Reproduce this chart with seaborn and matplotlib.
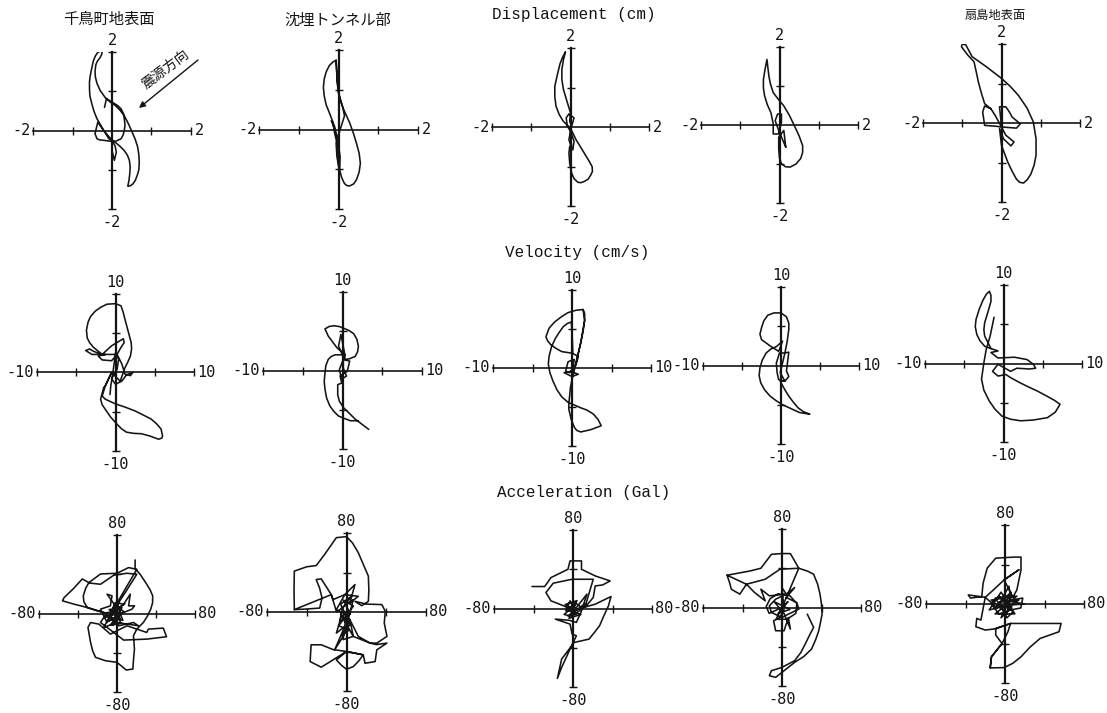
import matplotlib
matplotlib.use("Agg")
import matplotlib.pyplot as plt
import seaborn as sns

W, H = 1107, 713
INK = "#141414"
MONO = ["Liberation Mono", "DejaVu Sans Mono"]
LABEL = ["DejaVu Sans Mono"]
CJK = ["Noto Sans CJK JP", "DejaVu Sans"]

# ---------- orbit readings (x, y) in chart units ----------
disp_1 = [(-.19,.59),(-.14,.81),(.04,.70),(.15,.63),(.23,.55),(.29,.43),(.31,.30),(.33,.14),(.31,0),(.28,-.12),(.23,-.21),(.08,-.28),(-.08,-.21),(-.21,0),
          (-.38,.30),(-.46,.50),(-.51,.68),(-.56,.88),(-.57,1.06),(-.57,1.24),(-.55,1.40),(-.51,1.60),(-.47,1.78),(-.42,1.90),(-.36,1.99),(-.30,2.02),(-.25,2.01),(-.26,1.94),(-.30,1.86),(-.38,1.75),(-.41,1.67),
          (-.43,1.50),(-.42,1.36),(-.38,1.20),(-.30,1.02),(-.18,.85),(-.04,.72),(.08,.64),(.20,.52),(.31,.38),(.42,.16),(.51,-.04),(.59,-.23),(.65,-.42),(.68,-.62),(.69,-.81),(.68,-1.0),(.64,-1.14),(.59,-1.27),
          (.53,-1.36),(.46,-1.41),(.40,-1.42),(.43,-1.27),(.45,-1.10),(.46,-.92),(.44,-.76),(.39,-.63),(.31,-.51),(.20,-.40),(.08,-.30),(-.06,-.27),(-.21,-.25),(-.31,-.24),(-.38,-.21),(-.43,-.08),
          (-.36,.21),(-.21,0),(0,-.25),(.08,-.40),(.11,-.55),(.06,-.76),(0,-.51)]
disp_2 = [(-.06,1.74),(-.14,1.70),(-.23,1.61),(-.31,1.45),(-.36,1.27),(-.38,1.06),(-.36,.85),(-.31,.62),(-.23,.42),(-.10,.08),(-.02,-.25),(.04,-.68),(.03,-1.02),(.08,-1.21),
          (.15,-1.36),(.21,-1.41),(.28,-1.42),(.38,-1.37),(.45,-1.27),(.52,-1.07),(.55,-.85),(.52,-.60),(.45,-.34),(.37,-.08),(.28,.17),(.19,.37),(.11,.55),(.05,.72),(0,.93),(-.03,1.15),(-.04,1.36),(-.06,1.74),
          (-.04,1.36),(0,.93),(.11,.55),(.15,.34),(.03,-.04),(-.06,-.34),(-.04,-.68),(.01,-.97),(-.02,-.42),(-.10,-.08),
          (-.14,.17),(-.18,.22),(-.08,-.02)]
disp_3 = [(-.13,1.90),(-.21,1.75),(-.27,1.59),(-.34,1.30),(-.40,1.03),(-.40,.77),(-.37,.53),(-.29,.32),(-.18,.14),(0,-.03),(.14,-.32),(.24,-.48),(.35,-.66),(.46,-.84),(.55,-1.0),(.56,-1.12),
          (.52,-1.21),(.45,-1.32),(.35,-1.38),(.26,-1.41),(.19,-1.40),(.09,-1.31),(.03,-1.17),(-.02,-.92),(-.04,-.66),(-.02,-.49),(.06,-.58),(.09,-.36),(0,-.11),
          (-.04,-.32),(.03,-.55),(0,-.11),(-.08,.02),(-.11,.23),(-.04,.33),(.09,.23),(.03,.02),(-.02,.15),(0,.36),(-.09,.65),
          (-.18,.95),(-.22,1.2),(-.22,1.46),(-.18,1.70),(-.13,1.90)]
disp_4 = [(.16,-.57),(.11,-.14),(-.02,-.31),(-.02,-.61),(0,-.85),(.05,-.99),(.15,-1.07),(.27,-1.08),(.42,-1.0),(.54,-.86),(.59,-.70),(.59,-.53),(.50,-.28),(.38,-.02),
          (.25,.25),(.11,.49),(-.03,.66),(-.16,.83),(-.23,1.05),(-.27,1.25),(-.32,1.68),(-.37,1.42),(-.41,1.17),(-.41,.95),(-.38,.75),(-.31,.52),(-.22,.32),(-.16,.03),(-.16,-.23),
          (-.02,-.23),(.05,.07),(.05,.28),(-.05,.28),(-.11,.11),(-.02,-.14),(.16,-.57)]
disp_5 = [(0,-.10),(-.05,.41),(.11,.41),(.20,.28),(.27,.15),(.48,-.02),(.38,-.13),(0,-.10),(.11,-.31),(.32,-.48),(.24,-.58),
          (.05,-.40),(-.05,-.14),(0,-.57),(.16,-.99),(.27,-1.22),(.38,-1.42),(.46,-1.50),(.56,-1.52),(.66,-1.43),(.75,-1.29),(.83,-1.07),(.88,-.82),(.88,-.40),(.81,.03),(.65,.38),
          (.43,.70),(.22,.93),(0,1.13),(-.38,1.42),(-.75,1.68),(-.84,1.85),(-.91,1.98),(-1.0,2.0),(-1.02,1.93),(-.86,1.72),(-.70,1.55),(-.64,1.28),(-.59,1.04),(-.51,.75),(-.43,.49),
          (-.27,.36),(-.16,.19),(0,-.10),(-.16,-.08),(-.43,-.06),(-.48,.28),(-.43,.43),(-.27,.36)]

vel_1 = [(-.7,-2.8),(-.6,-1.7),(-.3,.2),(0,2.5),(.4,1.7),(.2,.4),(-.5,-.8),(0,-1.5),(.8,-1.1),(1.4,-.3),(2.2,0),(1.9,-.4),
         (1.2,-.2),(.8,1.1),(.2,2.3),(.7,3.2),(1.1,3.8),(1.0,4.3),(-.5,3.4),(-1.7,2.3),(-2.8,2.7),(-3.3,3.0),(-3.8,2.8),(-3.0,2.3),
         (-1.3,2.3),(-2.2,2.1),(-1.7,1.6),(-.5,1.5),(.2,2.3),(-1.7,2.3),(-2.3,2.8),(-2.8,3.2),(-3.3,3.8),(-3.6,4.4),(-3.7,5.4),(-3.5,6.4),(-3.2,7.1),(-2.6,7.8),(-1.9,8.3),
         (-1.1,8.7),(0,8.77),(.7,8.5),(1.0,7.6),(1.2,6.8),(1.6,5.3),(2.0,3.8),(2.05,3),(1.9,2.1),(1.6,1.4),(1.2,.6),(.6,-1.1),(-.5,0),(-1.3,-1.7),(-1.5,-1.9),
         (-1.9,-3.4),(-1.7,-4.1),(-1.3,-4.7),(-.6,-5.7),(.2,-6.6),(.8,-7.2),(1.4,-7.6),(2.3,-7.75),(3.3,-7.8),(4.4,-8.1),(5.5,-8.5),(5.9,-8.35),(6.0,-8.1),(5.8,-7.2),(5.2,-6.5),(4.5,-5.9),(3.5,-5.4),(2.5,-4.9),(1.2,-4.4),
         (0,-4.0),(-1.3,-3.4),(-1.7,-3.0),(-1.3,-1.7),(-.5,0)]
vel_2 = [(3.3,-7.5),(1.6,-6.2),(.1,-4.7),(-.4,-3.9),(-.6,-3.1),(-.6,-1.8),(-.1,-1.6),(-.3,-.7),(.6,-.1),(.9,1.2),(.1,1.4),(-.4,.1),
         (-.1,-1.1),(.5,-.7),(.1,.3),(.1,1.8),(-.5,3.1),(-.2,4.6),(.3,2.0),(-.7,2.9),(-1.8,4.4),(-2.2,5.3),(-1.7,5.6),(-1.1,5.7),
         (-.4,5.6),(.1,5.4),(.8,5.1),(1.4,4.7),(1.8,4.0),(2.0,3.1),(1.9,2.4),(1.6,1.8),(.9,1.5),(.3,1.4),(.3,2.0),(-.9,2.0),(-1.4,1.8),(-1.8,1.4),(-2.1,.6),(-2.2,-.3),(-2.3,-1.4),(-2.2,-2.4),(-2.0,-3.5),(-1.6,-4.5),(-1.1,-5.2),
         (-.5,-5.8),(.2,-6.1),(1.0,-6.4),(2.0,-6.4)]
vel_3 = [(1.4,7.5),(.5,7.4),(-.5,7.1),(-1.3,6.6),(-2.2,5.9),(-2.9,5.1),(-3.3,4.0),(-3.1,3.5),(-2.7,3.0),(-2.0,2.5),(-1.3,2.1),(0,1.9),(.8,1.5),(.5,.4),(-.3,-.6),
         (-.8,-.4),(-.5,.8),(.3,1.1),(0,-.4),(-1.0,-.6),(0,-1.1),(.8,-.8),(0,-.5),(.5,.6),(.8,1.9),(1.1,3.2),(1.4,4.7),(1.6,6.1),(1.6,7.0),(1.4,7.5),
         (1.6,6.1),(1.1,3.2),(.5,.6),(0,-1.5),(-.2,-2.5),(-.3,-3.6),(-.4,-4.5),(-.4,-5.3),(-.1,-6.6),(.3,-7.6),(.6,-8.0),(1.1,-8.2),(2.4,-7.9),(3.7,-7.4),(3.3,-6.6),(2.7,-5.9),(1.9,-5.4),
         (1.1,-5.1),(-.5,-4.4),(-1.3,-3.7),(-1.9,-2.8),(-2.4,-1.7),(-2.8,-.6),(-3.0,.5),(-2.9,1.5),(-2.6,2.7),(-2.1,3.8),(-1.6,4.6),(-1.1,5.3),(-.6,5.7),(-.1,5.9),(0,4.9),(.1,1.9)]
vel_4 = [(0,6.7),(-.9,6.7),(-1.7,6.4),(-2.2,5.7),(-2.5,4.8),(-2.7,4.0),(-2.5,3.3),(-1.4,2.5),(-.3,1.8),(.2,3.1),(-.6,2.4),(-1.3,2.1),(-1.9,1.6),(-2.4,.7),(-2.7,-.3),(-2.8,-1.3),(-2.6,-2.2),(-2.1,-3.1),
         (-1.4,-3.9),(-.6,-4.5),(.2,-5.0),(1.3,-5.5),(2.4,-6.0),(3.7,-6.2),(2.9,-5.9),(2.2,-5.4),(1.6,-4.7),(1.0,-3.9),(.5,-3.1),(-.1,-2.0),(.5,-2.0),(1.0,-1.4),(.7,-.7),
         (1.0,1.7),(.5,1.6),(-.2,1.6),(-.6,.3),(-.5,-.9),(-.3,-1.8),(.5,-2.0),(-.1,-.9),(.5,1.6),(.8,3.1),(1.0,4.6),(1.0,5.4),(.7,6.2),(0,6.7)]
vel_5 = [(-1.2,5.9),(-1.7,3.5),(-2.2,1.8),(-2.5,.1),(-2.8,-2.0),(-2.5,-3.4),(-1.8,-4.8),(-1.1,-5.8),(-.2,-6.7),(.9,-7.1),(2.2,-7.3),(3.8,-7.2),(5.6,-6.9),(6.6,-6.2),(7.2,-5.2),(6.5,-4.7),
         (5.6,-4.2),(4.3,-3.5),(3.0,-2.9),(2,-2.4),(.9,-1.8),(.3,-1.4),(-.7,-1.6),(-1.4,-1.0),(-.7,-.1),(.9,-1.0),(1.7,-.6),(3.3,-.7),(4.1,-.6),
         (3.8,-.1),(3.0,.5),(1.4,.8),(-.7,.7),(-1.6,1.4),(-.7,1.6),(-1.6,1.9),(-2.4,2.2),(-3.0,2.9),(-3.4,3.7),(-3.6,4.7),(-3.5,5.6),(-3.1,6.9),(-2.6,8.1),(-2.2,8.8),(-1.8,9.2),(-1.6,8.7),
         (-1.6,7.9),(-2.0,6.5),(-2.4,5.2),(-2.5,4.3),(-2.4,3.5),(-1.6,1.9)]

acc_1 = [(18.6,54.6),(18.6,45.8),(23.7,40),(30.5,29.8),(34,24),(36.6,18),(36.5,11),(34.6,4.4),(31,-3),(27,-9.2),(20.3,-15.9),(16.9,-22.7),(17.9,-36.3),(17,-46),
         (16.3,-56.6),(9.5,-57.6),(0,-49.8),(-11.9,-48.1),(-22,-44.7),(-25,-38),(-27.1,-29.5),(-29.8,-14.2),(-27.1,-9.2),(-18.6,-10.8),
         (-6.8,-21),(10.2,-12.5),(30.5,-19.3),(32.2,-15.9),(47.5,-14.9),(50.8,-23.7),(30.5,-26.1),(6.8,-27.1),(-3.4,-19.3),
         (-16.9,-9.2),(-10.2,1),(0,2),(1.7,11.2),(8.5,21.4),(20.3,40),(10.2,41),(-3.4,39),(-16.9,29.8),(-28,31),(-35.6,35.2),(-45,25),
         (-54.2,16.3),(-55.9,12.9),(-44,9.5),(-30.5,6.1),(-20.3,2.7),(-10,0),(-30.5,6.1),(-34,12),(-34.6,18),(-32,26),(-28.8,31.5),(-16.9,40.3),
         (0,41),(11.9,46.8),(20.3,45),
         (-1.7,7.8),(-10.2,19.7),(-5.1,18),(-6.8,7.8),(-16.9,4.4),(-10.2,-9.2),(-1.7,11.2),(6.8,9.5),(13.6,19.7),(11.9,7.8),
         (18,7.8),(15.3,4.4),(6.8,1),(-3.4,-5.8),(-10.2,-2.4),(1.7,-12.5),(16.9,-9.2),(22,-12.5),(0,-9.2),(-13.6,-14.2),
         (-1.7,7.8),(3.4,-5.8),(-8,4),(5,6),(-4,-12),(2,-3),(-9,-8),(7,2),(-3,9),(-6,-4),(6,-7),(1,6),(-12,-4),(3,1),(-7,-12),(4,-10),(-2,3),(8,10),(-4,2),(0,-6)]
acc_2 = [(-52.5,2.4),(-52.8,22),(-52.5,41.4),(-40,45.8),(-30.5,47),(-22,58.3),(-10.2,75.3),(0,76.3),(6,70),(11.9,60),(17,48),(22,36.3),(22.5,22),(22,10.8),(15.3,6.4),
         (8.5,10.8),(20,8),(35.6,7.5),(39,.7),(38,-11.2),(40.7,-24.7),(30.5,-31.5),(23.7,-31.5),(11.9,-24.7),(6.8,-14.6),(3.4,-7.8),
         (6.8,-24.7),(-3.4,-28),(0,-1),(-5.1,-4.4),(-10.2,-21.4),(-1.7,-14.6),(-11.9,-38.3),(-3.4,-24.7),(3.4,-7.8),(-3.4,-1),
         (-10.2,2.4),(-1.7,17.6),(8.5,27.8),(3.4,9.2),(11.9,15.9),(-1.7,17.6),(-13.6,12.5),(-15.3,17.6),(-25.4,33.5),(-30.5,32.9),
         (-27,24),(-24.6,14.2),(-27,4),(-40,3),(-52.5,2.4),
         (-15.3,17.6),(-10,0),(6.8,12.5),(1.7,-7.8),(-6,8),(5,16),(-4,4),(-7,-10),(4,-2),(-3,12),(7,6),(-8,-14),(3,-18),(-5,-24),(4,-12),(-6,-2),(6.8,-24.7),(23.7,-31.5),(30,-33),(40.7,-31.5),(30.5,-38.3),(28.8,-50.2),
         (18.6,-51.9),(16.9,-43.4),(8.5,-41.7),(0,-40),(-10.2,-48.5),(-5,-54),(0,-58),(6.8,-55.3),(12,-50),(16.9,-43.4),(8.5,-41.7),(0,-40),
         (-13.6,-38),(-25.4,-33.2),(-35.6,-33.2),(-36.6,-50.2),(-25.4,-55.9),(-13.6,-48.5),(0,-40)]
acc_3 = [(-41.5,22.4),(-28.7,22.4),(-22.3,31.5),(-5.1,40),(-3,48.5),(8.6,48.5),(8.6,40),(22.5,33.2),(37.6,28.1),(30,24),(22.5,23),
         (20.5,11.2),(12,1),(20.5,29.8),(-.9,29.8),(-20,25.8),(-27.4,16.3),(-22.3,7.8),(-9.4,2.7),(0,-2),(22.5,4.4),(38.5,12.2),
         (35.9,2.7),(31,-8),(26.9,-17.6),(22,-24),(16.2,-31.2),(1.3,-34.6),(-11.5,-51.5),(-15.8,-71.2),(-11.5,-60),(-3,-41.4),(3.4,-27.8),
         (-.9,-26.1),(-3,-15.9),(-17.9,-10.8),(-4,-12),(3.4,-14.2),(8,-4),(14.1,14.6),(3.4,1),(-7.3,-2.4),(-3,7.8),(3.4,-5.8),(-5.1,-7.5),
         (12,4.4),(3.4,-2),(-8,4),(4,8),(-4,-10),(8,-6),(-6,-2),(2,6),(10,0),(-2,-8),(-9,-6),(2,3)]
acc_4 = [(-55.6,32.9),(-53,25),(-51.3,18.6),(-42.7,13.6),(-36,23.7),(-55.6,32.9),(-32,37.3),(-21.4,40),(-10.7,54.2),(0,55),(8.5,54.9),(17,40),
         (-2,39),(-17,28.8),(-36,23.7),(-27.8,15.3),(-17,6.8),(-21.4,18.6),(-12.8,11.9),(4.3,13.6),(12.8,20.3),(4.3,10.2),(15,5),
         (17,-1.7),(6.4,-6.8),(0,-10.2),(-10.7,-5),(-12.8,1.7),(-6.4,8.5),(4.3,13.6),(0,20.3),(2,-2),(-2.1,-10.2),(-8.5,-13.6),
         (-6.4,-23.7),(2.1,-23.7),(6.4,-10.2),(8.5,-22),(2,-6),(-8,6),(8,-2),(-4,-6),(6,6),(0,0),(-13,-6),(-16,1),(-12,9),(-4,14),(8,12),(15,4),(14,-6),(5,-12),(-6,-12),(0,0),(17,40),
         (26,37),(32,33.9),(36,24),(38.5,13.6),(40,3),(40.6,-6.8),(39,-15),(37.2,-23.7),(34,-33),(29.9,-42.4),(22,-50),(12.8,-55.9),(4.3,-62.7),(-6.4,-71.2),(-12.8,-69.5),
         (-10.7,-64.4),(0,-61),(12.8,-54.2),(19,-46),(23.5,-37.3),(28,-28),(32,-20.3),(25.6,-6.8)]
acc_5 = [(-15,-64.7),(-13.7,-53.5),(-3,-40),(-9.4,-31.5),(-9.4,-24.7),(5.6,-19.7),(35.5,-19.7),(56.8,-19.7),(54.7,-28.1),(35.5,-34.9),
         (25,-44),(16.2,-53.5),(8,-60),(-.9,-64.4),(-15,-64.7),(-13.7,-53.5),(-3,-40),(3,-28),(5.6,-19.7),(-9,-25),(-20,-26.4),(-29.5,-23),(-28.6,-14.6),
         (-24.4,-16.3),(-20,6.8),(-37.2,9.2),(-35,6),(-23.5,7.5),(-22.2,21),(-18,36.3),(-9.4,46.4),(0,47),(9.8,47.5),(16.2,47.5),(16.2,34.6),
         (12,14.2),(8,7),(-.9,24.4),(14,34.6),(-.9,24.4),(-12,14),(-20,6.8),(-8,-4),(4,18),(6,4),(18,6),(16,-4),(6,-6),(-6,-10),(-14,0),
         (-6,8),(8,-8),(2,-14),(-6,2),(14,4),(-2,-6),(-10,6),(4,8),(0,-2),(-16,-6),(-4,12),(10,-10),(-10,-10),(12,8),(-14,4),(2,-10),(6,12),(-8,-2),(20,0),(3,3),(-4,-14),(7,-3),(0,0)]

row_limits = [2, 10, 80]
row_ticks_top = ["2", "10", "80"]
row_ticks_bot = ["-2", "-10", "-80"]
row_titles = ["Displacement (cm)", "Velocity (cm/s)", "Acceleration (Gal)"]
site_titles = ["千鳥町地表面", "沈埋トンネル部", "扇島地表面"]
source_label = "震源方向"
orbits = [[disp_1, disp_2, disp_3, disp_4, disp_5],
          [vel_1, vel_2, vel_3, vel_4, vel_5],
          [acc_1, acc_2, acc_3, acc_4, acc_5]]

# ---------- layout: axis extents of each panel, image pixels (left, right, top, bottom) ----------
boxes = [[(33,191,52,209),(259,418,50,209),(492,649,48,206),(701,858,47,203),(923,1080,44,202)],
         [(37,194,294,451),(263,422,292,449),(493,651,290,446),(703,859,287,444),(925,1082,285,442)],
         [(39,195,535,692),(267,426,533,691),(494,652,530,687),(703,861,529,686),(926,1084,525,683)]]

sns.set_style("white")
plt.rcParams["font.family"] = MONO
fig = plt.figure(figsize=(W / 100, H / 100), dpi=100, facecolor="white")


def fx(px):
    return px / W


def fy(py):
    return 1 - py / H


for r, row in enumerate(boxes):
    lim = row_limits[r]
    for c, (l, rt, t, b) in enumerate(row):
        ax = fig.add_axes([fx(l), fy(b), (rt - l) / W, (b - t) / H])
        pts = orbits[r][c]
        sns.lineplot(x=[p[0] for p in pts], y=[p[1] for p in pts], sort=False, estimator=None,
                     color=INK, lw=1.15, ax=ax, legend=False)
        ax.lines[-1].set_solid_joinstyle("round")
        ax.set_xlim(-lim, lim)
        ax.set_ylim(-lim, lim)
        ax.patch.set_alpha(0)
        for s in ("top", "right"):
            ax.spines[s].set_visible(False)
        ax.spines["left"].set_position("zero")
        ax.spines["bottom"].set_position("zero")
        ax.spines["left"].set_linewidth(1.6)
        ax.spines["bottom"].set_linewidth(1.2)
        ax.spines["left"].set_color(INK)
        ax.spines["bottom"].set_color(INK)
        tk = [-lim, -lim / 2, lim / 2, lim]
        ax.set_xticks(tk)
        ax.set_yticks(tk)
        ax.set_xticklabels([])
        ax.set_yticklabels([])
        ax.tick_params(axis="both", which="major", direction="inout", length=5.5, width=1.0,
                       color=INK, bottom=True, left=True)
        kw = dict(xycoords="data", textcoords="offset points", fontsize=11, color=INK,
                  annotation_clip=False, family=LABEL)
        ax.annotate(row_ticks_top[r], (0, lim), xytext=(0, 3), ha="center", va="bottom", **kw)
        ax.annotate(row_ticks_bot[r], (0, -lim), xytext=(0, -4.5), ha="center", va="top", **kw)
        ax.annotate(row_ticks_bot[r], (-lim, 0), xytext=(-2, 0), ha="right", va="center", **kw)
        ax.annotate(row_ticks_top[r], (lim, 0), xytext=(2.5, 0), ha="left", va="center", **kw)

for txt, x, y in zip(row_titles, (574, 577, 584), (14, 253, 492)):
    fig.text(fx(x), fy(y), txt, ha="center", va="center", fontsize=11.5, color=INK, family=MONO)

for txt, x, y, fs in zip(site_titles, (109, 338, 995), (19, 20, 15), (11, 11, 8.8)):
    fig.text(fx(x), fy(y), txt, ha="center", va="center", fontsize=fs, color=INK, family=CJK)

fig.text(fx(166), fy(69), source_label, ha="center", va="center", rotation=37, rotation_mode="anchor",
         fontsize=10, color=INK, family=CJK)
fig.add_artist(matplotlib.patches.FancyArrowPatch((fx(198), fy(60)), (fx(139), fy(108)),
               transform=fig.transFigure, arrowstyle="-|>", mutation_scale=9, lw=1.0, color=INK,
               shrinkA=0, shrinkB=0))

fig.savefig("out.png", dpi=100, facecolor="white")
